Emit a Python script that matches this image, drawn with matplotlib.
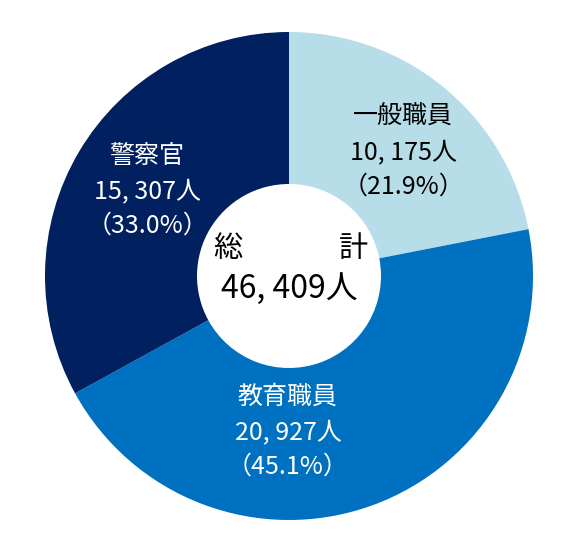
import matplotlib
matplotlib.use("Agg")
import matplotlib.pyplot as plt

categories = ["一般職員", "教育職員", "警察官"]
values = [10175, 20927, 15307]
colors = ["#B6DDE8", "#0070C0", "#002060"]
text_colors = ["black", "white", "white"]
total_label = "総計"

plt.rcParams['font.family'] = ['Noto Sans CJK JP', 'DejaVu Sans']

W, H = 574, 546
fig = plt.figure(figsize=(W / 100, H / 100), dpi=100)
ax = fig.add_axes([0, 0, 1, 1])

cx, cy = 289, H - 276
R = 244
r_hole = 92
ax.pie(values, colors=colors, startangle=90, counterclock=False,
       center=(cx, cy), radius=R, frame=True,
       wedgeprops=dict(width=R - r_hole, linewidth=0))
ax.set_xlim(0, W)
ax.set_ylim(0, H)
ax.axis("off")

total = sum(values)
label_pos = [(403, 117), (288, 397), (147, 156)]
fs = 18
for cat, v, tc, (x, y) in zip(categories, values, text_colors, label_pos):
    num = f"{v:,}".replace(",", ", ")
    pct = f"（{v / total * 100:.1f}%）"
    for i, t in enumerate([cat, num + "人", pct]):
        ax.text(x, H - (y + 35 * i), t, ha="center", va="center",
                fontsize=fs, color=tc)

ax.text(228, H - 249, total_label[0], ha="center", va="center", fontsize=21, color="black")
ax.text(353, H - 249, total_label[1], ha="center", va="center", fontsize=21, color="black")
ax.text(289, H - 289, f"{total:,}".replace(",", ", ") + "人", ha="center", va="center",
        fontsize=23, color="black")

fig.savefig("out.png", dpi=100)
